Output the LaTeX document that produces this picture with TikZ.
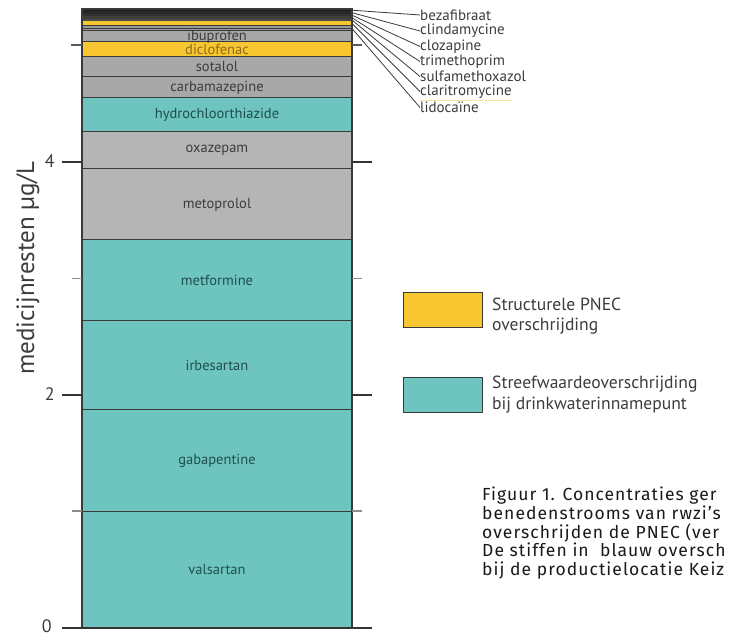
\documentclass[tikz,border=0pt]{standalone}
\usepackage{fontspec}
\usetikzlibrary{calc}
\setmainfont{PT Sans}
\newfontfamily\capfont[LetterSpace=6]{Fira Sans}
\definecolor{tealc}{HTML}{6EC4BF}
\definecolor{greyA}{HTML}{B5B5B5}
\definecolor{greyB}{HTML}{A8A8A8}
\definecolor{greyC}{HTML}{9A9A9A}
\definecolor{yellowc}{HTML}{F8C630}
\definecolor{linec}{HTML}{3A3A3A}
\definecolor{txtgrey}{HTML}{3C3C3C}
\definecolor{txtteal}{HTML}{1F4F4C}
\definecolor{txtyel}{HTML}{8A6D1E}
\definecolor{darkA}{HTML}{1C1C1C}
\definecolor{darkB}{HTML}{282828}
\definecolor{darkC}{HTML}{323232}
\definecolor{darkD}{HTML}{3E3E3E}
\definecolor{darkE}{HTML}{4A4A4A}
\definecolor{underl}{HTML}{FBE3A0}
\tikzset{
  segline/.style={draw=linec, line width=1pt},
  seglabel/.style={inner sep=0pt, font=\fontsize{14.5}{16}\selectfont},
  leader/.style={draw=linec, line width=0.8pt},
  leadlabel/.style={anchor=west, inner sep=0pt, text=txtgrey, font=\fontsize{15}{16}\selectfont},
  majtick/.style={draw=linec!90!black, line width=1.5pt},
  mintick/.style={draw=black!45, line width=1.2pt},
  ticklabel/.style={anchor=east, inner sep=0pt, text=txtgrey, font=\fontsize{18}{20}\selectfont},
  legbox/.style={draw=linec, line width=1pt, minimum width=79pt, minimum height=35pt, inner sep=0pt},
  legtext/.style={anchor=west, inner sep=0pt, text=txtgrey, font=\fontsize{17.6}{20}\selectfont},
  captext/.style={anchor=north west, inner sep=0pt, align=left, text=black!90, font=\capfont\fontsize{17.5}{18.6}\selectfont}
}
\newcommand\drawseg[6]{%
  \fill[#4] (82,#2) rectangle (352,#3);
  \draw[segline] (82,#3) -- (352,#3);
  \node[seglabel, text=#6] (#1) at (217,{(#2+#3)/2}) {#5};
}
\begin{document}
\begin{tikzpicture}[x=1pt,y=-1pt]
\useasboundingbox (0,0) rectangle (737,636);
\clip (0,0) rectangle (737,636);
% main segments
\drawseg{valsartan}{511}{628}{tealc}{valsartan}{txtteal}
\drawseg{gabapentine}{410}{511}{tealc}{gabapentine}{txtteal}
\drawseg{irbesartan}{321}{410}{tealc}{irbesartan}{txtteal}
\drawseg{metformine}{240}{321}{tealc}{metformine}{txtteal}
\drawseg{metoprolol}{169}{240}{greyA}{metoprolol}{txtgrey}
\drawseg{oxazepam}{132}{169}{greyA}{oxazepam}{txtgrey}
\drawseg{hydro}{98}{132}{tealc}{hydrochloorthiazide}{txtteal}
\drawseg{carbamazepine}{77}{98}{greyB}{carbamazepine}{txtgrey}
\drawseg{sotalol}{57}{77}{greyB}{sotalol}{txtgrey}
\drawseg{diclofenac}{42}{57}{yellowc}{diclofenac}{txtyel}
\drawseg{ibuprofen}{31}{42}{greyB}{ibuprofen}{txtgrey}
% thin top strips
\fill[greyC] (82,26) rectangle (352,31);
\draw[segline] (82,28.5) -- (352,28.5);
\draw[segline] (82,31) -- (352,31);
\fill[yellowc] (82,21) rectangle (352,26);
\draw[segline] (82,26) -- (352,26);
\draw[segline] (82,21) -- (352,21);
\fill[darkE] (82,19) rectangle (352,21);
\fill[darkD] (82,16.5) rectangle (352,19);
\fill[darkC] (82,14) rectangle (352,16.5);
\fill[darkB] (82,11.5) rectangle (352,14);
\fill[darkA] (82,9) rectangle (352,11.5);
% bar outline
\draw[draw=linec, line width=1.3pt] (82,628) -- (82,9) -- (352,9) -- (352,628);
% coordinates for leader starts
\coordinate (sBez) at (352,10.2);
\coordinate (sCli) at (352,12.7);
\coordinate (sClo) at (352,15.2);
\coordinate (sTri) at (352,17.7);
\coordinate (sSul) at (352,20);
\coordinate (sCla) at (352,23.5);
\coordinate (sLid) at (352,28.5);
% leader labels
\node[leadlabel] (lBez) at (420,15) {bezafibraat};
\node[leadlabel] (lCli) at (420,31) {clindamycine};
\node[leadlabel] (lClo) at (420,46.5) {clozapine};
\node[leadlabel] (lTri) at (420,61.5) {trimethoprim};
\node[leadlabel] (lSul) at (420,76.5) {sulfamethoxazol};
\node[leadlabel] (lCla) at (420,91.5) {claritromycine};
\node[leadlabel] (lLid) at (420,107.5) {lidocaïne};
\draw[draw=underl, line width=1.5pt] ($(lCla.south west)+(0,2)$) -- ($(lCla.south east)+(0,2)$);
\draw[leader] (sBez) -- (lBez.west);
\draw[leader] (sCli) -- (lCli.west);
\draw[leader] (sClo) -- (lClo.west);
\draw[leader] (sTri) -- (lTri.west);
\draw[leader] (sSul) -- (lSul.west);
\draw[leader] (sCla) -- (lCla.west);
\draw[leader] (sLid) -- (lLid.west);
% ticks
\draw[draw=black!65, line width=1.2pt] (71,45) -- (82,45) (352,45) -- (362,45);
\draw[majtick] (62,162) -- (82,162) (352,162) -- (372,162);
\draw[mintick] (72,278.5) -- (82,278.5) (352,278.5) -- (362,278.5);
\draw[majtick] (62,395) -- (82,395) (352,395) -- (372,395);
\draw[mintick] (72,511) -- (82,511) (352,511) -- (362,511);
\draw[majtick] (62,628) -- (372,628);
\node[ticklabel] (t4) at (55,161) {4};
\node[ticklabel] (t2) at (55,394) {2};
\node[ticklabel] (t0) at (52,626) {0};
\node[rotate=90, inner sep=0pt, text=txtgrey, font=\fontsize{25}{28}\selectfont] (ylab) at (28,268) {medicijnresten µg/L};
% legend
\node[legbox, fill=yellowc] (legY) at (442.5,310.5) {};
\node[legbox, fill=tealc] (legT) at (442.5,395.5) {};
\node[legtext] (legY1) at (492,304) {Structurele PNEC};
\node[legtext] (legY2) at (492,326) {overschrijding};
\node[legtext] (legT1) at (492,384) {Streefwaardeoverschrijding};
\node[legtext] (legT2) at (492,405) {bij drinkwaterinnamepunt};
% caption
\node[captext] (cap) at (482,487) {Figuur 1. Concentraties ger\\benedenstrooms van rwzi’s\\overschrijden de PNEC (ver\\De stiffen in\ \ blauw oversch\\bij de productielocatie Keiz};
\end{tikzpicture}
\end{document}
